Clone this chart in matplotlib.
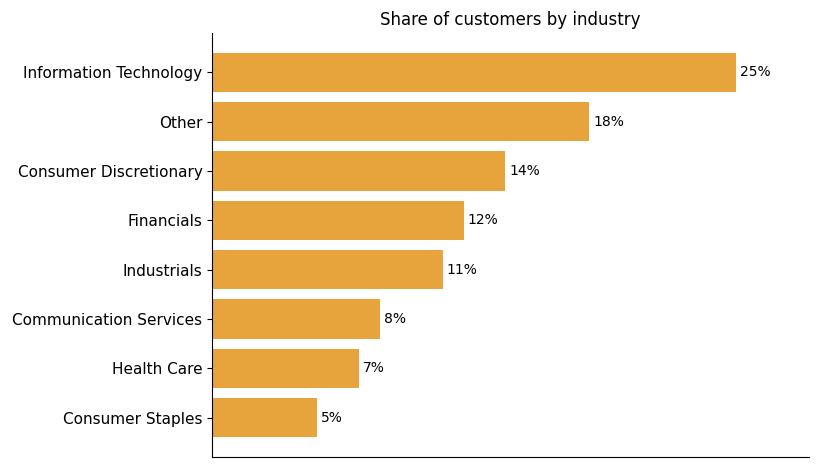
import matplotlib
matplotlib.use("Agg")
import matplotlib.pyplot as plt

industries = ["Information Technology", "Other", "Consumer Discretionary", "Financials",
              "Industrials", "Communication Services", "Health Care", "Consumer Staples"]
shares = [25, 18, 14, 12, 11, 8, 7, 5]

fig = plt.figure(figsize=(8.19, 4.68), dpi=100)
ax = fig.add_axes([0.259, 0.0235, 0.729, 0.906])
y = list(range(len(industries)))
bars = ax.barh(y, shares, height=0.8, color="#E8A43C")
for yi, v in zip(y, shares):
    ax.text(v + 0.2, yi, f"{v}%", va="center", ha="left", fontsize=10)
ax.set_yticks(y)
ax.set_yticklabels(industries, fontsize=11)
ax.set_ylim(7.8, -0.8)
ax.set_xlim(0, 28.5)
ax.set_xticks([])
ax.spines["top"].set_visible(False)
ax.spines["right"].set_visible(False)
ax.set_title("Share of customers by industry", fontsize=12)
fig.savefig("out.png", dpi=100)
